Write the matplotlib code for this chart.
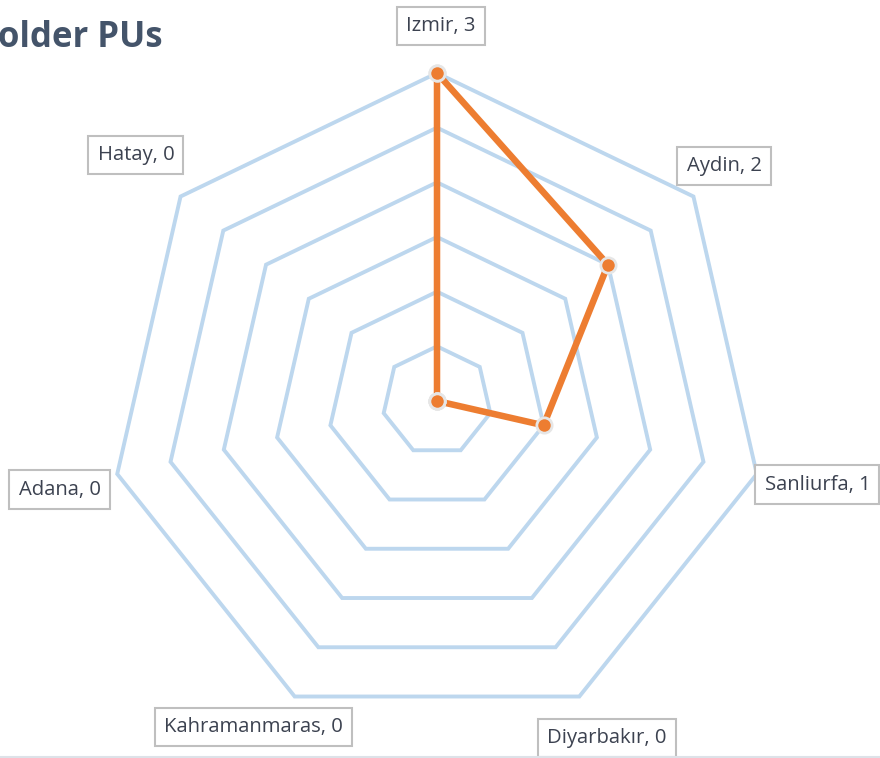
import matplotlib
matplotlib.use("Agg")
import matplotlib.pyplot as plt
import numpy as np
from matplotlib.lines import Line2D

cities = ['Izmir', 'Aydin', 'Sanliurfa', 'Diyarbakır', 'Kahramanmaras', 'Adana', 'Hatay']
counts = [3, 2, 1, 0, 0, 0, 0]
rings = [0.5, 1.0, 1.5, 2.0, 2.5, 3.0]

W, H = 880, 758
cx, cy = 437, 401           # centre in pixels
px_per_unit = 328 / 3.0     # radius of the value-3 ring

# small pixel nudges of the label boxes (right, down)
label_nudge = [(4, 5), (-10, 2), (10, -1), (5, -5), (-19, -16), (-7, 4), (-4, -9)]

fig = plt.figure(figsize=(W / 100, H / 100), dpi=100)
ax = fig.add_axes([0, 0, 1, 1])
ax.set_xlim(-cx / px_per_unit, (W - cx) / px_per_unit)
ax.set_ylim(-(H - cy) / px_per_unit, cy / px_per_unit)
ax.set_aspect('equal')
ax.axis('off')

n = len(cities)
angles = np.pi / 2 - np.arange(n) * 2 * np.pi / n
ang_closed = np.append(angles, angles[0])

# heptagon grid
for r in rings:
    ax.plot(r * np.cos(ang_closed), r * np.sin(ang_closed),
            color='#BDD7EE', lw=2.8, solid_joinstyle='miter', zorder=1)

# data line
vals = np.append(counts, counts[0])
ax.plot(vals * np.cos(ang_closed), vals * np.sin(ang_closed),
        color='#ED7D31', lw=4.7, marker='o', ms=11, mfc='#ED7D31',
        mec='#E6E6E6', mew=2, solid_joinstyle='round', zorder=3)

# category labels in boxes
label_r = 380 / px_per_unit
for name, v, a, (nx, ny) in zip(cities, counts, angles, label_nudge):
    ax.annotate('{}, {}'.format(name, v), (label_r * np.cos(a), label_r * np.sin(a)),
                xytext=(nx, -ny), textcoords='offset pixels',
                ha='center', va='center', fontsize=14.6, family='Open Sans', color='#3C4250',
                bbox=dict(boxstyle='square,pad=0.45', fc='white', ec='#BFBFBF', lw=1.5),
                zorder=4)

# title (partly outside the figure on the left)
fig.text(163 / W, 1 - 47 / H, 'older PUs', ha='right', va='baseline',
         fontsize=25, fontweight='bold', family='Open Sans', color='#44546A')

# thin border at the bottom
fig.add_artist(Line2D([0, 1], [1.5 / H, 1.5 / H], color='#DDE2E8', lw=1.5))

fig.savefig('out.png', dpi=100)
